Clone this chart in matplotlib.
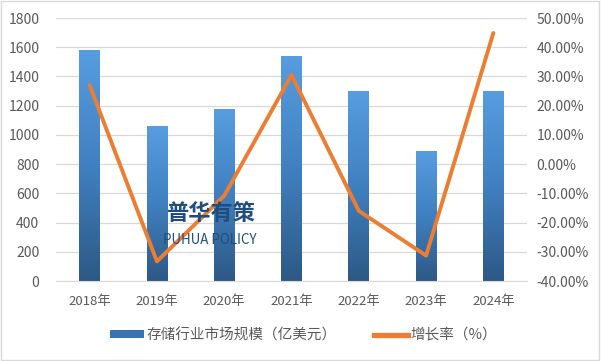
import numpy as np
import matplotlib
matplotlib.use("Agg")
import matplotlib.pyplot as plt
from matplotlib.patches import Patch, Rectangle
from matplotlib.lines import Line2D
from matplotlib.colors import LinearSegmentedColormap

plt.rcParams['font.family'] = ['Noto Sans CJK SC', 'DejaVu Sans']

# data
years = ['2018年', '2019年', '2020年', '2021年', '2022年', '2023年', '2024年']
market_size = [1580, 1060, 1175, 1540, 1300, 890, 1300]
growth = [27.0, -33.3, -10.8, 30.5, -16.0, -31.3, 44.9]

bar_name = '存储行业市场规模（亿美元）'
line_name = '增长率（%）'

fig = plt.figure(figsize=(6.01, 3.61), dpi=100)
ax = fig.add_axes([0.0932, 0.2216, 0.7837, 0.7284])
ax2 = ax.twinx()

x = np.arange(len(years))
grad = LinearSegmentedColormap.from_list('bar', ['#2D5985', '#4080C0', '#579DDF'])

bars = ax.bar(x, market_size, width=0.31, color='none', zorder=2)
gradient = np.linspace(0, 1, 256).reshape(-1, 1)
for b in bars:
    x0, w, h = b.get_x(), b.get_width(), b.get_height()
    im = ax.imshow(gradient, cmap=grad, origin='lower', aspect='auto',
                   extent=[x0, x0 + w, 0, h], zorder=2)
    im.set_clip_path(b)

ax.set_xlim(-0.5, len(years) - 0.5)
ax.set_ylim(0, 1800)
ax.set_yticks(range(0, 1801, 200))
ax.set_xticks(x)
ax.set_xticklabels(years)
ax.grid(axis='y', color='#D9D9D9', linewidth=0.9, zorder=0)
ax.set_axisbelow(True)

ax2.plot(x, growth, color='#ED7D31', linewidth=2.8, zorder=3,
         solid_joinstyle='round', solid_capstyle='round')
ax2.set_ylim(-40, 50)
ax2.set_yticks(range(-40, 51, 10))
ax2.set_yticklabels([f'{v:.2f}%' for v in range(-40, 51, 10)])

for a in (ax, ax2):
    for s in a.spines.values():
        s.set_visible(False)
    a.tick_params(length=0, colors='#595959', labelsize=10)
ax.spines['bottom'].set_visible(True)
ax.spines['bottom'].set_color('#D9D9D9')
ax.tick_params(axis='x', labelsize=9.5, pad=10)
ax.tick_params(axis='y', pad=12)
ax2.tick_params(axis='y', pad=7)

# watermark
fig.text(0.3495, 1 - 213 / 361, '普华有策', fontsize=16, fontweight='bold',
         color='#1F4E7E', ha='center', va='center', zorder=5)
fig.text(0.3495, 1 - 240 / 361, 'PUHUA POLICY', fontsize=9.6, fontweight='medium',
         color='#1F4E7E', ha='center', va='center', zorder=5)

handles = [Patch(facecolor='#3A74B0', edgecolor='none'),
           Line2D([0], [0], color='#ED7D31', linewidth=3.8)]
fig.legend(handles, [bar_name, line_name], loc='center',
           bbox_to_anchor=(0.505, 1 - 335 / 361), ncol=2, frameon=False,
           fontsize=10.5, labelcolor='#595959', handlelength=2.3, handleheight=0.45,
           handletextpad=0.15, columnspacing=2.6)

fig.patches.append(Rectangle((0.002, 0.003), 0.995, 0.993, transform=fig.transFigure,
                             fill=False, edgecolor='#D9D9D9', linewidth=1))

fig.savefig('out.png', dpi=100)
